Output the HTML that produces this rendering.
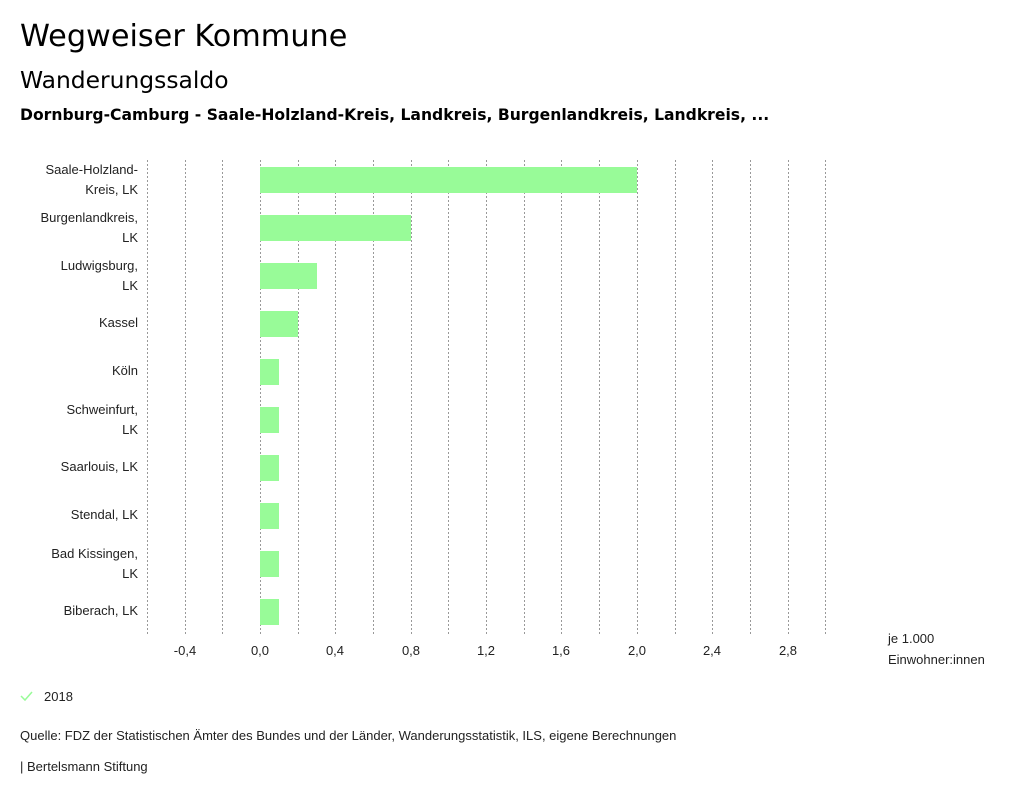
<!DOCTYPE html>
<html><head><meta charset="utf-8"><style>
body{margin:0;width:1024px;height:799px;background:#fff;font-family:"DejaVu Sans","Liberation Sans",sans-serif;color:#000;position:relative;overflow:hidden}
.t{position:absolute;white-space:nowrap}
</style></head><body>
<div class="t" style="left:20px;top:19px;font-size:30.3px">Wegweiser Kommune</div>
<div class="t" style="left:20px;top:66px;font-size:23.4px">Wanderungssaldo</div>
<div class="t" style="left:20px;top:106px;font-size:15.6px;font-weight:bold">Dornburg-Camburg - Saale-Holzland-Kreis, Landkreis, Burgenlandkreis, Landkreis, ...</div>
<svg style="position:absolute;left:0;top:0" width="1024" height="799" font-family="Liberation Sans, sans-serif" font-size="13">
<g stroke="#999" stroke-dasharray="2,2" stroke-width="1">
<line x1="147.5" y1="160" x2="147.5" y2="635"/><line x1="185.5" y1="160" x2="185.5" y2="635"/><line x1="222.5" y1="160" x2="222.5" y2="635"/><line x1="260.5" y1="160" x2="260.5" y2="635"/><line x1="298.5" y1="160" x2="298.5" y2="635"/><line x1="335.5" y1="160" x2="335.5" y2="635"/><line x1="373.5" y1="160" x2="373.5" y2="635"/><line x1="411.5" y1="160" x2="411.5" y2="635"/><line x1="448.5" y1="160" x2="448.5" y2="635"/><line x1="486.5" y1="160" x2="486.5" y2="635"/><line x1="524.5" y1="160" x2="524.5" y2="635"/><line x1="561.5" y1="160" x2="561.5" y2="635"/><line x1="599.5" y1="160" x2="599.5" y2="635"/><line x1="637.5" y1="160" x2="637.5" y2="635"/><line x1="675.5" y1="160" x2="675.5" y2="635"/><line x1="712.5" y1="160" x2="712.5" y2="635"/><line x1="750.5" y1="160" x2="750.5" y2="635"/><line x1="788.5" y1="160" x2="788.5" y2="635"/><line x1="825.5" y1="160" x2="825.5" y2="635"/>
</g>
<g fill="#98fb98">
<rect x="260" y="167" width="377" height="26"/><rect x="260" y="215" width="151" height="26"/><rect x="260" y="263" width="57" height="26"/><rect x="260" y="311" width="38" height="26"/><rect x="260" y="359" width="19" height="26"/><rect x="260" y="407" width="19" height="26"/><rect x="260" y="455" width="19" height="26"/><rect x="260" y="503" width="19" height="26"/><rect x="260" y="551" width="19" height="26"/><rect x="260" y="599" width="19" height="26"/>
</g>
<g text-anchor="end" fill="#222">
<text x="138" y="174">Saale-Holzland-</text><text x="138" y="194">Kreis, LK</text>
<text x="138" y="222">Burgenlandkreis,</text><text x="138" y="242">LK</text>
<text x="138" y="270">Ludwigsburg,</text><text x="138" y="290">LK</text>
<text x="138" y="327">Kassel</text>
<text x="138" y="375">Köln</text>
<text x="138" y="414">Schweinfurt,</text><text x="138" y="434">LK</text>
<text x="138" y="471">Saarlouis, LK</text>
<text x="138" y="519">Stendal, LK</text>
<text x="138" y="558">Bad Kissingen,</text><text x="138" y="578">LK</text>
<text x="138" y="615">Biberach, LK</text>
</g>
<g text-anchor="middle" fill="#222">
<text x="185" y="655">-0,4</text><text x="260" y="655">0,0</text><text x="335" y="655">0,4</text><text x="411" y="655">0,8</text><text x="486" y="655">1,2</text><text x="561" y="655">1,6</text><text x="637" y="655">2,0</text><text x="712" y="655">2,4</text><text x="788" y="655">2,8</text>
</g>
<text x="888" y="643" fill="#222">je 1.000</text>
<text x="888" y="664" fill="#222">Einwohner:innen</text>
<path d="M21 696 l4 4 l7 -8" stroke="#98fb98" stroke-width="1.5" fill="none"/>
<text x="44" y="701" fill="#222">2018</text>
<text x="20" y="740" fill="#222">Quelle: FDZ der Statistischen Ämter des Bundes und der Länder, Wanderungsstatistik, ILS, eigene Berechnungen</text>
<text x="20" y="771" fill="#222">| Bertelsmann Stiftung</text>
</svg>
</body></html>
